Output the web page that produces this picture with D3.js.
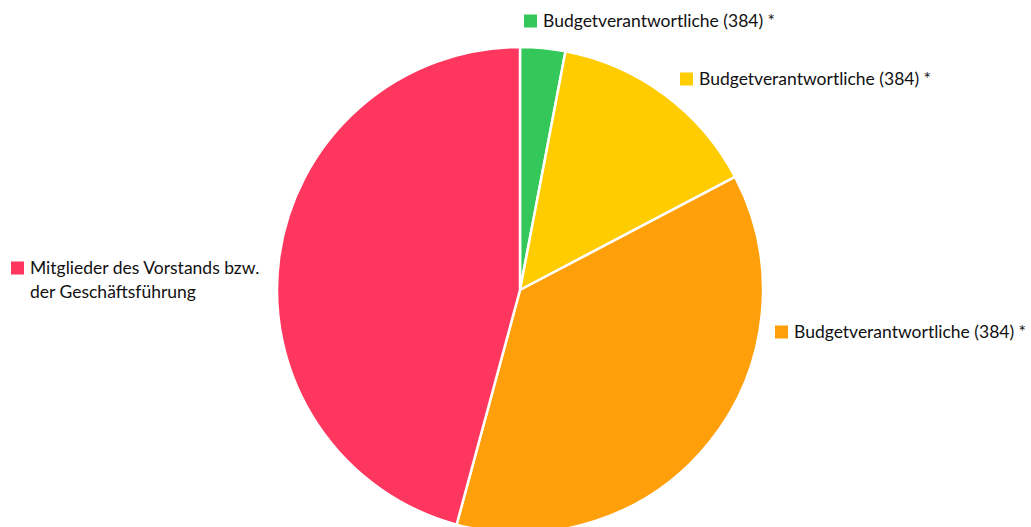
<!DOCTYPE html>
<html><head><meta charset="utf-8">
<script src="https://cdn.jsdelivr.net/npm/d3@7"></script>
<style>html,body{margin:0;padding:0;background:#fff;}</style>
</head><body>
<svg id="c" width="1031" height="527"></svg>
<script>
const categories = ["Budgetverantwortliche (384) *", "Budgetverantwortliche (384) *", "Budgetverantwortliche (384) *", "Mitglieder des Vorstands bzw.\nder Geschäftsführung"];
const values = [3.0, 14.3, 36.9, 45.8];
const colors = ["#34c759", "#ffcc00", "#ff9f0a", "#ff375f"];
const labelPos = [[524, 21], [680, 79], [775, 332], [11, 268]];

const svg = d3.select("#c");
const cx = 520, cy = 290, r = 243;
const pie = d3.pie().sort(null).value(d => d)(values);
const arc = d3.arc().innerRadius(0).outerRadius(r);
const g = svg.append("g").attr("transform", `translate(${cx},${cy})`);
g.selectAll("path").data(pie).join("path")
  .attr("d", arc).attr("fill", (d, i) => colors[i])
  .attr("stroke", "#fff").attr("stroke-width", 2.5).attr("stroke-linejoin", "round");

const lg = svg.append("g").attr("font-family", "Lato, 'Open Sans', sans-serif").attr("font-size", 17.5).attr("fill", "#111");
categories.forEach((c, i) => {
  const [x, y] = labelPos[i];
  lg.append("rect").attr("x", x).attr("y", y - 6.5).attr("width", 13).attr("height", 13).attr("fill", colors[i]);
  const t = lg.append("text").attr("x", x + 19).attr("y", y);
  c.split("\n").forEach((line, j) => {
    t.append("tspan").attr("x", x + 19).attr("dy", j === 0 ? "0.35em" : 24).text(line);
  });
});
</script>
</body></html>
